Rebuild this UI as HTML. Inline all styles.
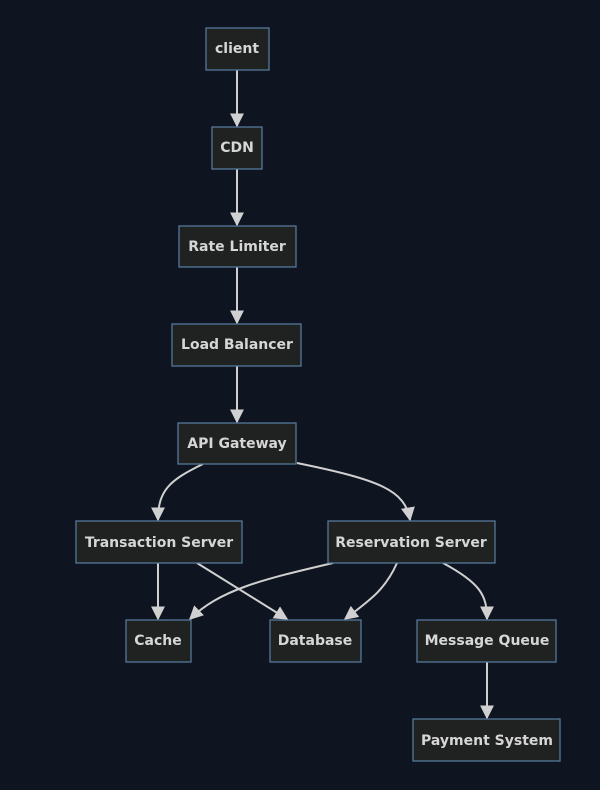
<!DOCTYPE html>
<html><head><meta charset="utf-8"><style>
html,body{margin:0;padding:0;background:#0e1420;}
svg{display:block}
text{font-family:"DejaVu Sans","Liberation Sans",sans-serif;font-size:14px;font-weight:bold;fill:#d6d6d6;text-anchor:middle;dominant-baseline:central}
rect{fill:#202121;stroke:#56789a;stroke-width:1.3}
path.e{fill:none;stroke:#d0d0d0;stroke-width:2}
</style></head><body>
<svg width="600" height="790" viewBox="0 0 600 790">
<defs><marker id="a" viewBox="0 0 10 10" refX="9" refY="5" markerWidth="7" markerHeight="7" markerUnits="strokeWidth" orient="auto"><path d="M0,0L10,5L0,10z" fill="#d0d0d0"/></marker></defs>
<rect x="0" y="0" width="600" height="790" style="fill:#0e1420;stroke:none"/>
<g>
<path class="e" d="M237,70V126" marker-end="url(#a)"/>
<path class="e" d="M237,169V225" marker-end="url(#a)"/>
<path class="e" d="M237,267V323" marker-end="url(#a)"/>
<path class="e" d="M237,366V422" marker-end="url(#a)"/>
<path class="e" d="M203,464C170,480 158,490 158,520" marker-end="url(#a)"/>
<path class="e" d="M297,463C380,480 405,490 410,520" marker-end="url(#a)"/>
<path class="e" d="M158,563V619" marker-end="url(#a)"/>
<path class="e" d="M197,563L287,619" marker-end="url(#a)"/>
<path class="e" d="M333,563C260,580 220,590 190,619" marker-end="url(#a)"/>
<path class="e" d="M397,563C385,590 370,600 345,619" marker-end="url(#a)"/>
<path class="e" d="M443,563C480,583 487,595 487,619" marker-end="url(#a)"/>
<path class="e" d="M487,662V718" marker-end="url(#a)"/>
</g>
<rect x="206" y="28" width="63" height="42"/><text x="237" y="49">client</text>
<rect x="212" y="127" width="50" height="42"/><text x="237" y="148">CDN</text>
<rect x="179" y="226" width="117" height="41"/><text x="237" y="247">Rate Limiter</text>
<rect x="172" y="324" width="129" height="42"/><text x="237" y="345">Load Balancer</text>
<rect x="178" y="423" width="118" height="41"/><text x="237" y="444">API Gateway</text>
<rect x="76" y="521" width="166" height="42"/><text x="159" y="543">Transaction Server</text>
<rect x="328" y="521" width="167" height="42"/><text x="411" y="543">Reservation Server</text>
<rect x="126" y="620" width="65" height="42"/><text x="158" y="641">Cache</text>
<rect x="270" y="620" width="91" height="42"/><text x="315" y="641">Database</text>
<rect x="417" y="620" width="139" height="42"/><text x="487" y="641">Message Queue</text>
<rect x="413" y="719" width="147" height="42"/><text x="487" y="741">Payment System</text>
</svg>
</body></html>
